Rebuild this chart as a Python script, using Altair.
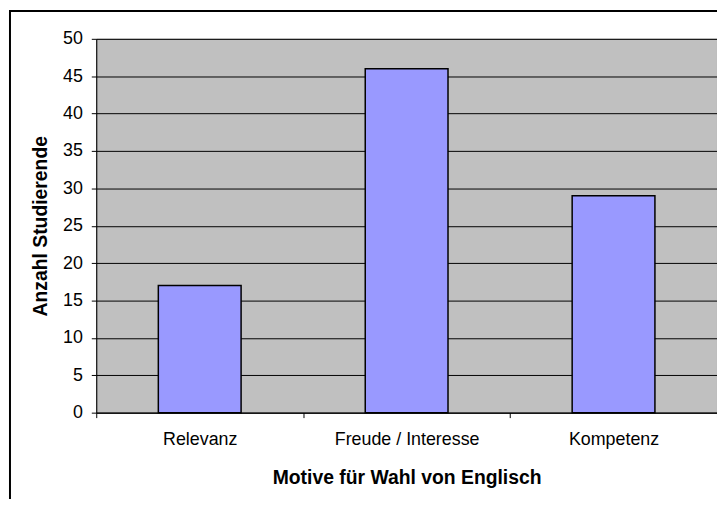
import altair as alt
import pandas as pd

categories = ["Relevanz", "Freude / Interesse", "Kompetenz"]
values = [17, 46, 29]

df = pd.DataFrame({"motiv": categories, "anzahl": values})

FONT = "Liberation Sans"

x_enc = alt.X(
    "motiv:N",
    sort=categories,
    scale=alt.Scale(paddingInner=0, paddingOuter=0),
    axis=alt.Axis(
        title="Motive für Wahl von Englisch",
        labelAngle=0,
        labelFontSize=18,
        labelFont=FONT,
        labelColor="#000000",
        labelPadding=13,
        tickBand="extent",
        tickSize=5,
        tickColor="#000000",
        domainColor="#000000",
        titleFont=FONT,
        titleFontSize=19.5,
        titleFontWeight="bold",
        titleColor="#000000",
        titleBaseline="alphabetic",
        titleY=71,
    ),
)

y_enc = alt.Y(
    "anzahl:Q",
    scale=alt.Scale(domain=[0, 50], nice=False),
    axis=alt.Axis(
        title="Anzahl Studierende",
        values=list(range(0, 51, 5)),
        labelFontSize=18,
        labelFont=FONT,
        labelColor="#000000",
        labelPadding=9,
        tickSize=5,
        tickColor="#000000",
        domainColor="#000000",
        grid=True,
        gridColor="#000000",
        gridWidth=1,
        titleFont=FONT,
        titleFontSize=19.5,
        titleFontWeight="bold",
        titleColor="#000000",
        titleBaseline="alphabetic",
        titleX=-50,
        titleY=188.5,
    ),
)

bars = alt.Chart(df).mark_bar(
    width=alt.RelativeBandSize(0.4),
    color="#9999FF",
    stroke="#000000",
    strokeWidth=1.5,
).encode(x=x_enc, y=y_enc)

frame = alt.Chart(pd.DataFrame({"a": [0]})).mark_rect(
    fill=None, stroke="#000000", strokeWidth=2, clip=False
).encode(
    x=alt.value(-87), x2=alt.value(800),
    y=alt.value(-28), y2=alt.value(600),
)

chart = alt.layer(bars, frame).properties(
    width=626,
    height=377,
    background="#FFFFFF",
    autosize=alt.AutoSizeParams(type="none"),
    padding={"left": 89, "top": 29, "right": 0, "bottom": 85},
).configure_view(
    fill="#C0C0C0", stroke="#808080", strokeWidth=1
)

chart.save("out.html", embed_options={"renderer": "svg", "actions": False})
